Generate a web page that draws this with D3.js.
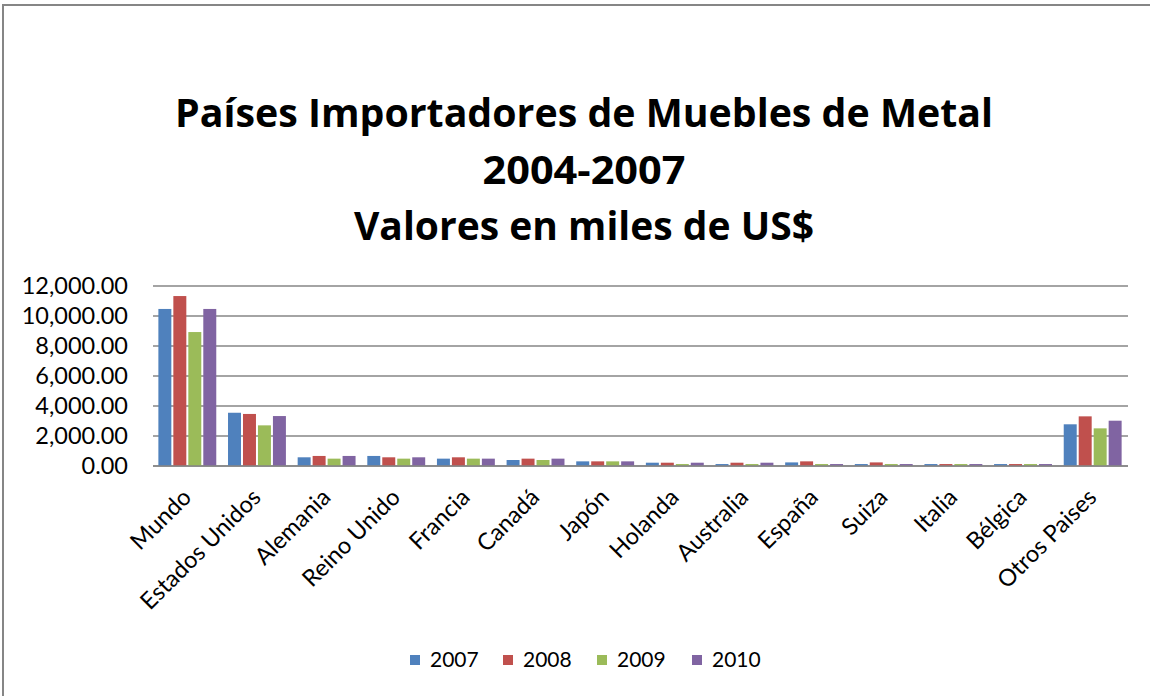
<!DOCTYPE html>
<html>
<head>
<meta charset="utf-8">
<script src="https://cdn.jsdelivr.net/npm/d3@7"></script>
<style>
  body { margin: 0; background: #fff; }
  svg { display: block; }
</style>
</head>
<body>
<div id="chart"></div>
<script>
// data (miles de US$)
var paises = ["Mundo", "Estados Unidos", "Alemania", "Reino Unido", "Francia", "Canadá",
  "Japón", "Holanda", "Australia", "España", "Suiza", "Italia", "Bélgica", "Otros Paises"];
var anios = ["2007", "2008", "2009", "2010"];
var v2007 = [10470, 3550, 580, 670, 490, 400, 310, 220, 130, 240, 130, 130, 130, 2780];
var v2008 = [11330, 3470, 670, 580, 580, 490, 310, 220, 220, 310, 240, 130, 130, 3310];
var v2009 = [8930, 2710, 490, 490, 490, 400, 310, 130, 130, 130, 130, 130, 130, 2510];
var v2010 = [10470, 3330, 670, 580, 490, 490, 310, 220, 220, 130, 130, 130, 130, 3020];
var yTicks = [0, 2000, 4000, 6000, 8000, 10000, 12000];
var colores = ["#4F81BD", "#C0504D", "#9BBB59", "#8064A2"];

var series = [v2007, v2008, v2009, v2010];
var width = 1150, height = 696;
var font = "Lato, 'Open Sans', sans-serif";

var svg = d3.select("#chart").append("svg")
  .attr("width", width)
  .attr("height", height);

// frame of the chart object
svg.append("rect")
  .attr("x", 3).attr("y", 5)
  .attr("width", 1160).attr("height", 720)
  .attr("fill", "#fff")
  .attr("stroke", "#868686")
  .attr("stroke-width", 2);

// title
var titulo = ["Países Importadores de Muebles de Metal", "2004-2007", "Valores en miles de US$"];
var tituloAncho = [818, 203, 460];
svg.append("g").selectAll("text")
  .data(titulo)
  .enter()
  .append("text")
  .attr("x", 584)
  .attr("y", function (d, i) { return 127 + i * 56.5; })
  .attr("text-anchor", "middle")
  .attr("textLength", function (d, i) { return tituloAncho[i]; })
  .attr("lengthAdjust", "spacingAndGlyphs")
  .style("font-family", "'Open Sans', sans-serif")
  .style("font-weight", "bold")
  .style("font-size", "39px")
  .text(function (d) { return d; });

// scales
var x0 = d3.scaleBand().domain(paises).range([153, 1128]).paddingInner(0.14).paddingOuter(0.07);
var x1 = d3.scaleBand().domain(anios).range([0, x0.bandwidth()]);
var y = d3.scaleLinear().domain([0, 12000]).range([466, 286]);

// grid
svg.append("g").selectAll("line")
  .data(yTicks)
  .enter()
  .append("line")
  .attr("x1", 153).attr("x2", 1128)
  .attr("y1", function (d) { return y(d); })
  .attr("y2", function (d) { return y(d); })
  .attr("stroke", "#868686")
  .attr("stroke-width", 1.3);

// y axis labels
var fmt = d3.format(",.2f");
svg.append("g").selectAll("text")
  .data(yTicks)
  .enter()
  .append("text")
  .attr("x", 128)
  .attr("y", function (d) { return y(d); })
  .attr("dy", "0.36em")
  .attr("text-anchor", "end")
  .style("font-family", font)
  .style("font-size", "23.5px")
  .attr("fill", "#000")
  .text(function (d) { return fmt(d); });

// bars
var grupos = svg.append("g").selectAll("g")
  .data(paises)
  .enter()
  .append("g")
  .attr("transform", function (d) { return "translate(" + x0(d) + ",0)"; });

grupos.selectAll("rect")
  .data(function (d, i) {
    return anios.map(function (a, j) { return { anio: a, valor: series[j][i], k: j }; });
  })
  .enter()
  .append("rect")
  .attr("x", function (d) { return x1(d.anio) + 0.5; })
  .attr("width", x1.bandwidth() - 2)
  .attr("y", function (d) { return y(d.valor); })
  .attr("height", function (d) { return y(0) - y(d.valor); })
  .attr("fill", function (d) { return colores[d.k]; });

// x axis line on top of bars
svg.append("line")
  .attr("x1", 153).attr("x2", 1128)
  .attr("y1", y(0)).attr("y2", y(0))
  .attr("stroke", "#868686")
  .attr("stroke-width", 1.3);

// category labels
svg.append("g").selectAll("text")
  .data(paises)
  .enter()
  .append("text")
  .attr("transform", function (d) {
    return "translate(" + (x0(d) + x0.bandwidth() / 2 - 1) + ",493) rotate(-45)";
  })
  .attr("text-anchor", "end")
  .attr("dy", "0.35em")
  .style("font-family", font)
  .style("font-size", "23.5px")
  .text(function (d) { return d; });

// legend
var legX = [410, 503, 597, 692];
var leyenda = svg.append("g").selectAll("g")
  .data(anios)
  .enter()
  .append("g")
  .attr("transform", function (d, i) { return "translate(" + legX[i] + ",0)"; });
leyenda.append("rect")
  .attr("x", 0).attr("y", 655)
  .attr("width", 10).attr("height", 10)
  .attr("fill", function (d, i) { return colores[i]; });
leyenda.append("text")
  .attr("x", 20).attr("y", 660)
  .attr("dy", "0.35em")
  .style("font-family", font)
  .style("font-size", "21px")
  .text(function (d) { return d; });
</script>
</body>
</html>
